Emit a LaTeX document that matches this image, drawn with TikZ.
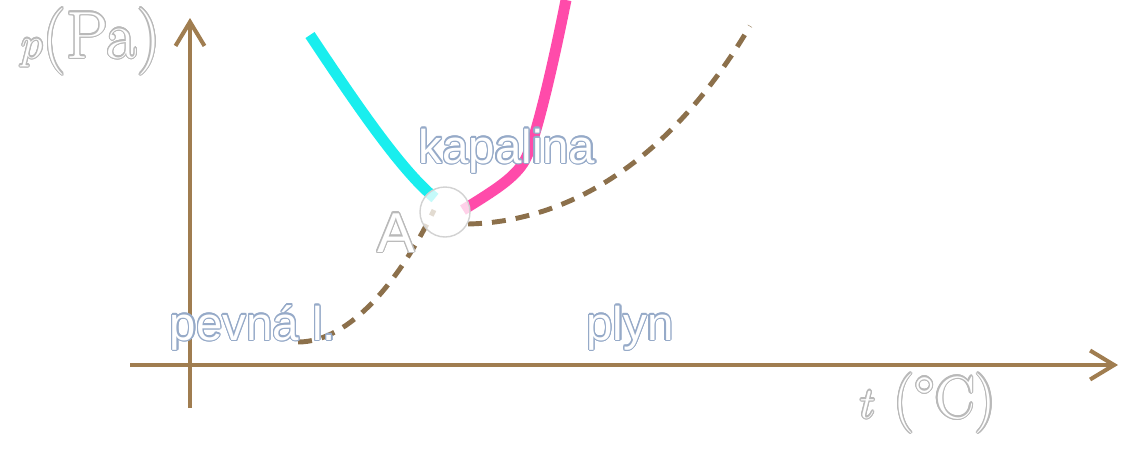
\documentclass[tikz,border=0pt]{standalone}
\usepackage{fontspec}
\usepackage{contour}
\usepackage{tikz}
\usetikzlibrary{arrows.meta,positioning}
\newfontfamily\lblfont{Liberation Sans}
\contourlength{0.7pt}
\definecolor{axisbrown}{RGB}{160,125,80}
\definecolor{dashbrown}{RGB}{140,112,75}
\definecolor{subcyan}{RGB}{25,238,238}
\definecolor{vappink}{RGB}{255,75,170}
\definecolor{lblline}{RGB}{150,170,200}
\definecolor{axlline}{RGB}{185,185,185}

\begin{document}
\begin{tikzpicture}[x=0.02cm, y=-0.02cm,
  axis/.style={draw=axisbrown, line width=2.3pt, -{Straight Barb[length=0.48cm, width=0.58cm, line width=2.3pt]}},
  phase/.style={line width=6.2pt},
  boundary/.style={draw=dashbrown, line width=2.8pt, dash pattern=on 0.28cm off 0.2cm},
  region/.style={font=\lblfont\fontsize{27}{30}\selectfont, text=white, anchor=base},
  axlabel/.style={font=\fontsize{34}{38}\selectfont, text=white, anchor=base}
]
  \useasboundingbox (0,0) rectangle (1127,464);

  % axes
  \coordinate (yfoot) at (190,408);
  \coordinate (ytip)  at (190,18);
  \coordinate (xfoot) at (130,365);
  \coordinate (xtip)  at (1118,365);
  \draw[axis] (yfoot) -- (ytip);
  \draw[axis] (xfoot) -- (xtip);

  % curves
  \coordinate (T) at (445,212);
  \draw[boundary] (298,342) .. controls (350,342) and (400,280) .. (434,210);
  \draw[boundary] (468,224) .. controls (560,222) and (665,170) .. (750,26);
  \draw[phase, subcyan] (310,35) .. controls (350,95) and (400,170) .. (435,198);
  \draw[phase, vappink] (463,210) .. controls (495,190) and (515,178) .. (525,160)
                        .. controls (535,142) and (552,70) .. (566,0);

  % triple point
  \node[circle, draw=gray!35, fill=white, fill opacity=0.75, line width=0.8pt,
        minimum size=50*0.02cm, inner sep=0pt] (A) at (T) {};
  \node[font=\lblfont\fontsize{32}{34}\selectfont, text=white, anchor=base] (Alabel) at (396,252) {\contour{axlline}{A}};

  % labels
  \node[region] (liquid) at (507,163) {\contour{lblline}{kapalina}};
  \node[region] (solid)  at (253,340) {\contour{lblline}{pevná l.}};
  \node[region] (gas)    at (630,340) {\contour{lblline}{plyn}};
  \node[axlabel, font=\fontsize{38}{42}\selectfont] (plabel) at (91,58) {\contour{axlline}{$p$(Pa)}};
  \node[axlabel] (tlabel) at (928,418) {\contour{axlline}{$t$ (°C)}};
\end{tikzpicture}
\end{document}
